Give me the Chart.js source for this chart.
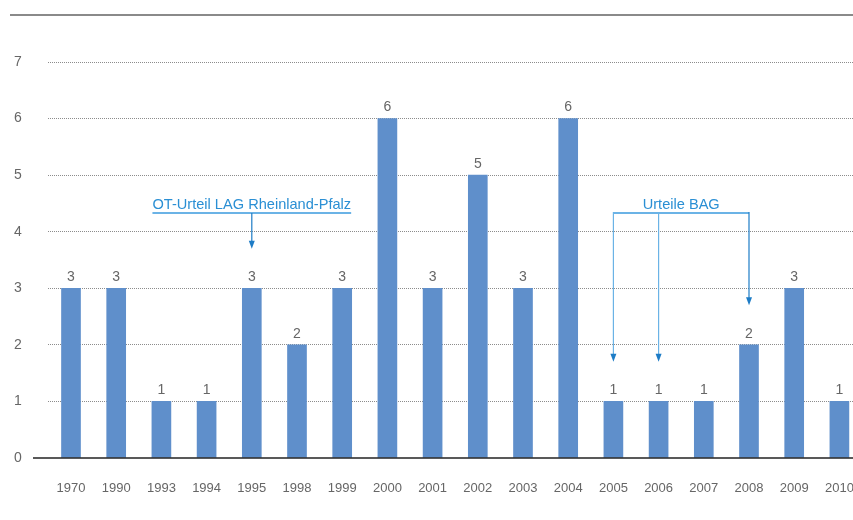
<!DOCTYPE html>
<html><head><meta charset="utf-8">
<script src="https://cdn.jsdelivr.net/npm/chart.js@4/dist/chart.umd.min.js"></script>
<style>
html,body{margin:0;padding:0;overflow:hidden;background:#fff;width:853px;height:520px}
#wrap{position:relative;width:862px;height:520px}
</style></head><body>
<div id="wrap"><canvas id="c"></canvas></div>
<script>
const categories = ['1970','1990','1993','1994','1995','1998','1999','2000','2001','2002','2003','2004','2005','2006','2007','2008','2009','2010'];
const values = [3,3,1,1,3,2,3,6,3,5,3,6,1,1,1,2,3,1];
const yTicks = [0,1,2,3,4,5,6,7];
const lagLabel = 'OT-Urteil LAG Rheinland-Pfalz';
const lagTarget = '1995';
const bagLabel = 'Urteile BAG';
const bagTargets = ['2005','2006','2008'];

const FONT = '"Liberation Sans", Arial, sans-serif';

const decor = {
  id: 'decor',
  beforeDatasetsDraw(chart) {
    const ctx = chart.ctx;
    ctx.save();
    ctx.strokeStyle = '#8a8a8a'; ctx.lineWidth = 2;
    ctx.beginPath(); ctx.moveTo(10, 15); ctx.lineTo(chart.width, 15); ctx.stroke();
    ctx.restore();
  },
  afterDatasetsDraw(chart) {
    const ctx = chart.ctx, x = chart.scales.x, y = chart.scales.y;
    ctx.save();
    ctx.strokeStyle = '#222'; ctx.lineWidth = 1.5;
    ctx.beginPath(); ctx.moveTo(33, y.getPixelForValue(0)); ctx.lineTo(chart.width, y.getPixelForValue(0)); ctx.stroke();
    const meta = chart.getDatasetMeta(0);
    ctx.fillStyle = '#666'; ctx.font = '14px ' + FONT; ctx.textAlign = 'center'; ctx.textBaseline = 'bottom';
    meta.data.forEach((bar, i) => { ctx.fillText(String(values[i]), bar.x, bar.y - 4); });

    const textCol = '#2a8fd4', lineCol = '#6bb3e6', arrCol = '#1d7cc6';
    const arrow = (px, y0, y1, color) => {
      ctx.strokeStyle = color; ctx.lineWidth = 1.2;
      ctx.beginPath(); ctx.moveTo(px, y0); ctx.lineTo(px, y1 - 6); ctx.stroke();
      ctx.fillStyle = arrCol;
      ctx.beginPath(); ctx.moveTo(px - 3, y1 - 8); ctx.lineTo(px + 3, y1 - 8); ctx.lineTo(px, y1); ctx.closePath(); ctx.fill();
    };
    const bracketY = y.getPixelForValue(4.33);
    const lx = x.getPixelForValue(categories.indexOf(lagTarget));
    ctx.font = '14.6px ' + FONT; ctx.textBaseline = 'alphabetic'; ctx.textAlign = 'center'; ctx.fillStyle = textCol;
    ctx.fillText(lagLabel, lx, bracketY - 4);
    const tw = ctx.measureText(lagLabel).width;
    ctx.strokeStyle = lineCol; ctx.lineWidth = 2;
    ctx.beginPath(); ctx.moveTo(lx - tw / 2, bracketY); ctx.lineTo(lx + tw / 2, bracketY); ctx.stroke();
    arrow(lx, bracketY, y.getPixelForValue(values[categories.indexOf(lagTarget)] + 0.7), arrCol);
    const bx = bagTargets.map(c => x.getPixelForValue(categories.indexOf(c)));
    const bmin = Math.min(...bx), bmax = Math.max(...bx);
    ctx.fillStyle = textCol; ctx.textAlign = 'center';
    ctx.fillText(bagLabel, (bmin + bmax) / 2, bracketY - 4);
    ctx.strokeStyle = lineCol; ctx.lineWidth = 2;
    ctx.beginPath(); ctx.moveTo(bmin, bracketY); ctx.lineTo(bmax, bracketY); ctx.stroke();
    bagTargets.forEach((c, k) => {
      const v = values[categories.indexOf(c)];
      arrow(bx[k], bracketY - 1, y.getPixelForValue(v + 0.7), k === bagTargets.length - 1 ? arrCol : lineCol);
    });
    ctx.restore();
  }
};

new Chart(document.getElementById('c'), {
  type: 'bar',
  data: { labels: categories, datasets: [{ data: values, backgroundColor: '#5f8fcb', barThickness: 19 }] },
  options: {
    responsive: true, maintainAspectRatio: false, animation: false,
    layout: { padding: { top: 62, left: 14, right: 0, bottom: 0 } },
    plugins: { legend: { display: false }, tooltip: { enabled: false } },
    scales: {
      x: {
        grid: { display: false, drawTicks: false }, border: { display: false },
        ticks: { color: '#666', font: { family: FONT, size: 13 }, padding: 23, maxRotation: 0, autoSkip: false },
        afterFit(s) { s.height = 62; s.paddingLeft = 0; s.paddingRight = 0; }
      },
      y: {
        min: 0, max: 7,
        afterBuildTicks(s) { s.ticks = yTicks.map(v => ({ value: v })); },
        afterFit(s) { s.width = 34.4; s.paddingTop = 0; s.paddingBottom = 0; },
        border: { display: false, dash: [1, 1] },
        grid: { drawTicks: false, color: c => c.tick && c.tick.value === 0 ? 'rgba(0,0,0,0)' : '#8c8c8c', lineWidth: 1 },
        ticks: { color: '#666', font: { family: FONT, size: 14 }, crossAlign: 'far', padding: 0 }
      }
    }
  },
  plugins: [decor]
});
</script>
</body></html>
